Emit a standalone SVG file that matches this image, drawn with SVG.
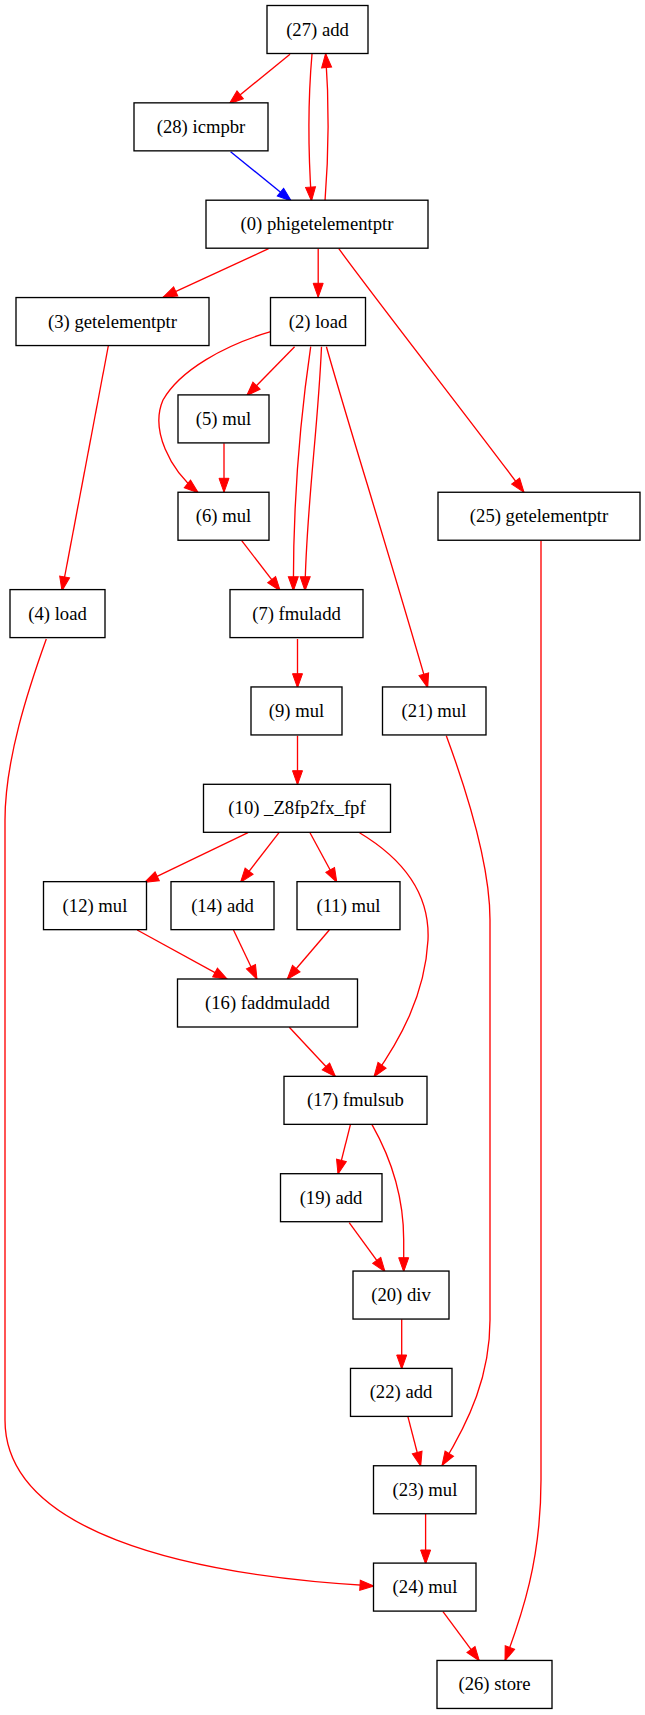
<svg xmlns="http://www.w3.org/2000/svg" width="645" height="1715" viewBox="0 0 645 1715">
<style>
.n rect{fill:#fff;stroke:#000;stroke-width:1.33}
.n text{font-family:"Liberation Serif","Times New Roman",serif;font-size:18.67px;text-anchor:middle;fill:#000}
.e{fill:none;stroke:#f00;stroke-width:1.33;marker-end:url(#ar)}
.b{fill:none;stroke:#00f;stroke-width:1.33;marker-end:url(#ab)}
</style>
<defs>
<marker id="ar" markerUnits="userSpaceOnUse" markerWidth="16" markerHeight="12" viewBox="-1 -1 16 12" refX="14" refY="5" orient="auto"><path d="M0,0 L14,5 L0,10 z" fill="#f00" stroke="#f00" stroke-width="1"/></marker>
<marker id="ab" markerUnits="userSpaceOnUse" markerWidth="16" markerHeight="12" viewBox="-1 -1 16 12" refX="14" refY="5" orient="auto"><path d="M0,0 L14,5 L0,10 z" fill="#00f" stroke="#00f" stroke-width="1"/></marker>
</defs>
<rect width="645" height="1715" fill="#fff"/>
<g id="edges">
<path class="e" d="M290,54.3 L229.3,103.7"/>
<path class="e" d="M312,54 C308,100 308,150 311.5,201"/>
<path class="e" d="M325,201 C329,150 329,100 325.6,53.5"/>
<path class="b" d="M230.6,151.7 L291.3,201"/>
<path class="e" d="M268.6,248.7 L163,297.3"/>
<path class="e" d="M318.2,248.7 L318.2,297.3"/>
<path class="e" d="M338.8,248.7 C380,305 470,420 524,492.3"/>
<path class="e" d="M270.7,331.7 C225,345 180,370 163,400 C150,430 170,470 198.3,492.7"/>
<path class="e" d="M294.6,346.7 L246.7,395.7"/>
<path class="e" d="M310.7,346.7 C300,420 293,500 293.4,590.7"/>
<path class="e" d="M321.5,346.7 C318,430 306,510 305,590.7"/>
<path class="e" d="M326.4,346.7 C350,430 385,540 427.7,687.7"/>
<path class="e" d="M224,443.3 L224,492.3"/>
<path class="e" d="M241.7,540.7 L280.2,590.7"/>
<path class="e" d="M108.3,346 L62,590.7"/>
<path class="e" d="M541,540.7 L541,1480 C541,1560 522,1615 505,1660.7"/>
<path class="e" d="M46.3,639 C28,690 5,760 5,820 L5,1420 C5,1530 180,1575 374,1586"/>
<path class="e" d="M297.5,639 L297.5,687.7"/>
<path class="e" d="M297.5,735.7 L297.5,784.7"/>
<path class="e" d="M446.3,735.7 C470,800 490,870 490,920 L490,1320 C490,1375 470,1420 442,1465.5"/>
<path class="e" d="M248,832.7 L144.6,882.3"/>
<path class="e" d="M279,832.7 L240.5,882.3"/>
<path class="e" d="M310,832.7 L336.8,882.3"/>
<path class="e" d="M359.5,832.7 C405,860 430,895 428,940 C425,995 400,1040 374,1076.7"/>
<path class="e" d="M137.2,930 L227.3,979.3"/>
<path class="e" d="M233.5,930 L257,979.3"/>
<path class="e" d="M329.3,930 L287.2,979.3"/>
<path class="e" d="M289.3,1027.3 L335.5,1076.7"/>
<path class="e" d="M350.4,1124.7 L338,1174"/>
<path class="e" d="M372,1124.7 C392,1160 403.7,1200 403.7,1240 L403.7,1271.7"/>
<path class="e" d="M349.2,1222.7 L385,1271.7"/>
<path class="e" d="M401.7,1319.3 L401.7,1369"/>
<path class="e" d="M407.9,1416.7 L420.7,1466"/>
<path class="e" d="M425.6,1514 L425.6,1564"/>
<path class="e" d="M443,1611.7 L479.3,1660.7"/>
</g>
<g id="n27" class="n"><rect x="267" y="5.5" width="101" height="48"/><text x="317.5" y="35.5">(27) add</text></g>
<g id="n28" class="n"><rect x="134" y="102.85" width="134" height="48"/><text x="201" y="132.85">(28) icmpbr</text></g>
<g id="n0" class="n"><rect x="206" y="200.2" width="222" height="48"/><text x="317" y="230.2">(0) phigetelementptr</text></g>
<g id="n3" class="n"><rect x="16" y="297.55" width="193" height="48"/><text x="112.5" y="327.55">(3) getelementptr</text></g>
<g id="n2" class="n"><rect x="270.5" y="297.55" width="95" height="48"/><text x="318" y="327.55">(2) load</text></g>
<g id="n5" class="n"><rect x="178" y="394.9" width="91" height="48"/><text x="223.5" y="424.9">(5) mul</text></g>
<g id="n6" class="n"><rect x="178" y="492.25" width="91" height="48"/><text x="223.5" y="522.25">(6) mul</text></g>
<g id="n25" class="n"><rect x="438" y="492.25" width="202" height="48"/><text x="539" y="522.25">(25) getelementptr</text></g>
<g id="n4" class="n"><rect x="10" y="589.6" width="95" height="48"/><text x="57.5" y="619.6">(4) load</text></g>
<g id="n7" class="n"><rect x="230" y="589.6" width="133" height="48"/><text x="296.5" y="619.6">(7) fmuladd</text></g>
<g id="n9" class="n"><rect x="251" y="686.95" width="91" height="48"/><text x="296.5" y="716.95">(9) mul</text></g>
<g id="n21" class="n"><rect x="382.5" y="686.95" width="103.5" height="48"/><text x="434" y="716.95">(21) mul</text></g>
<g id="n10" class="n"><rect x="203.5" y="784.3" width="187" height="48"/><text x="297" y="814.3">(10) _Z8fp2fx_fpf</text></g>
<g id="n12" class="n"><rect x="43.5" y="881.65" width="103" height="48"/><text x="95" y="911.65">(12) mul</text></g>
<g id="n14" class="n"><rect x="171" y="881.65" width="103" height="48"/><text x="222.5" y="911.65">(14) add</text></g>
<g id="n11" class="n"><rect x="297" y="881.65" width="103" height="48"/><text x="348.5" y="911.65">(11) mul</text></g>
<g id="n16" class="n"><rect x="177.5" y="979" width="180" height="48"/><text x="267.5" y="1009">(16) faddmuladd</text></g>
<g id="n17" class="n"><rect x="284" y="1076.35" width="143" height="48"/><text x="355.5" y="1106.35">(17) fmulsub</text></g>
<g id="n19" class="n"><rect x="280.5" y="1173.7" width="101.5" height="48"/><text x="331" y="1203.7">(19) add</text></g>
<g id="n20" class="n"><rect x="353" y="1271.05" width="96" height="48"/><text x="401" y="1301.05">(20) div</text></g>
<g id="n22" class="n"><rect x="350.5" y="1368.4" width="101.5" height="48"/><text x="401" y="1398.4">(22) add</text></g>
<g id="n23" class="n"><rect x="373.5" y="1465.75" width="102.5" height="48"/><text x="425" y="1495.75">(23) mul</text></g>
<g id="n24" class="n"><rect x="373.5" y="1563.1" width="102.5" height="48"/><text x="425" y="1593.1">(24) mul</text></g>
<g id="n26" class="n"><rect x="437" y="1660.45" width="115" height="48"/><text x="494.5" y="1690.45">(26) store</text></g>
</svg>
